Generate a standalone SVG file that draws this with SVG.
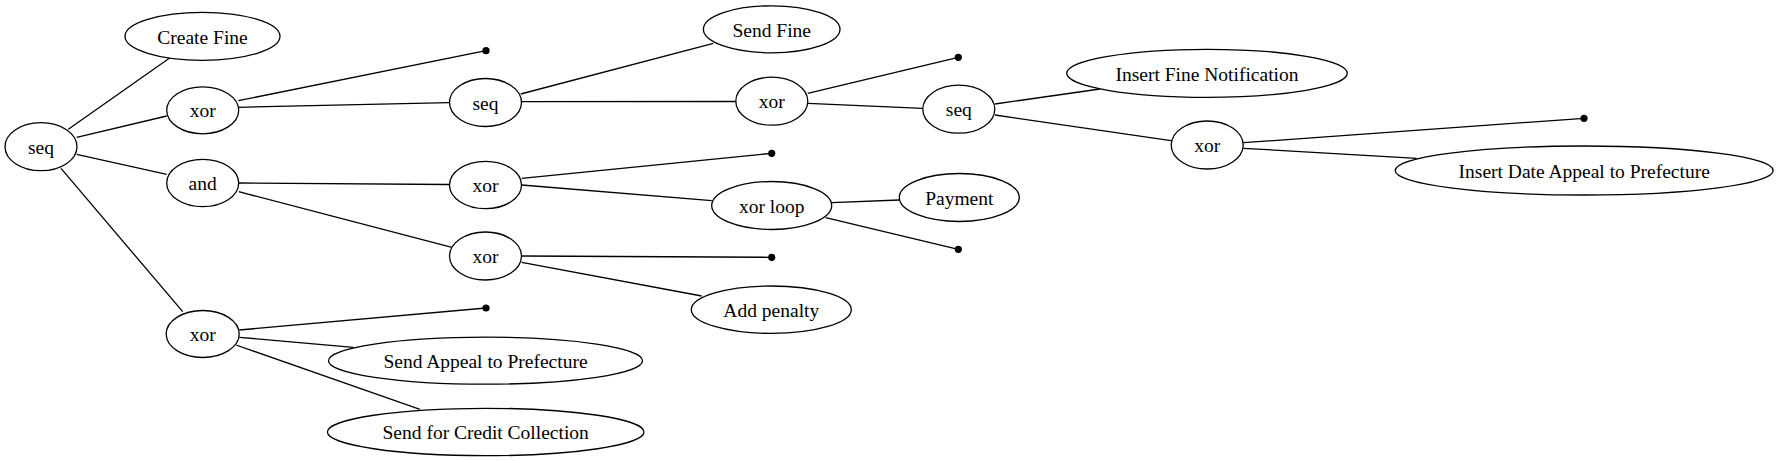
<svg xmlns="http://www.w3.org/2000/svg" width="1778" height="461" viewBox="0 0 1778 461">
<style>
.n ellipse{fill:#fff;stroke:#000;stroke-width:1.3}
.n text{font-family:'Liberation Serif','Times New Roman',serif;font-size:19.5px;text-anchor:middle;fill:#000}
.e line{stroke:#000;stroke-width:1.3;fill:none}
.d{fill:#000}
</style>
<rect width="1778" height="461" fill="#fff"/>
<g id="connectors" class="e">
<line x1="68.3" y1="129.3" x2="169.3" y2="58.3"/>
<line x1="76.7" y1="137.3" x2="166.7" y2="116"/>
<line x1="76.7" y1="154.3" x2="166.7" y2="174.3"/>
<line x1="61" y1="168.3" x2="182.7" y2="311.7"/>
<line x1="238.3" y1="100.7" x2="486" y2="50.7"/>
<line x1="238.3" y1="107.3" x2="449.3" y2="102.7"/>
<line x1="238.7" y1="183" x2="449.5" y2="184.5"/>
<line x1="238.7" y1="191.7" x2="451.9" y2="247.3"/>
<line x1="239.3" y1="330" x2="486" y2="308"/>
<line x1="239.3" y1="337.3" x2="353.3" y2="347.3"/>
<line x1="236" y1="345" x2="420" y2="409.3"/>
<line x1="520.7" y1="94" x2="713.3" y2="43.3"/>
<line x1="521.7" y1="101.7" x2="736" y2="101.5"/>
<line x1="521.7" y1="178.3" x2="771.7" y2="153.3"/>
<line x1="521.7" y1="185" x2="711.7" y2="200.7"/>
<line x1="521.7" y1="256" x2="771.7" y2="257.3"/>
<line x1="521.7" y1="262.3" x2="701.7" y2="296"/>
<line x1="807.7" y1="93.3" x2="958.3" y2="57.3"/>
<line x1="808" y1="103.3" x2="922.7" y2="108.3"/>
<line x1="831.7" y1="202.7" x2="899.3" y2="200"/>
<line x1="825.7" y1="217.7" x2="958.3" y2="249.3"/>
<line x1="995" y1="104" x2="1100" y2="89"/>
<line x1="995" y1="115" x2="1171" y2="140.7"/>
<line x1="1243.3" y1="142.7" x2="1584" y2="118.3"/>
<line x1="1243.3" y1="148.3" x2="1416.7" y2="158.3"/>
</g>
<g id="dots">
<circle class="d" cx="486" cy="50.7" r="3.6"/>
<circle class="d" cx="486" cy="308" r="3.6"/>
<circle class="d" cx="771.7" cy="153.3" r="3.6"/>
<circle class="d" cx="771.7" cy="257.3" r="3.6"/>
<circle class="d" cx="958.3" cy="57.3" r="3.6"/>
<circle class="d" cx="958.3" cy="249.3" r="3.6"/>
<circle class="d" cx="1584" cy="118.3" r="3.6"/>
</g>
<g id="root_seq" class="n"><ellipse cx="41" cy="146.7" rx="36" ry="24"/><text x="41" y="153.7">seq</text></g>
<g id="create_fine" class="n"><ellipse cx="202.5" cy="36.3" rx="77.5" ry="24"/><text x="202.5" y="43.5">Create Fine</text></g>
<g id="xor1" class="n"><ellipse cx="202.7" cy="110.3" rx="36" ry="23.5"/><text x="202.7" y="117.3">xor</text></g>
<g id="and" class="n"><ellipse cx="202.7" cy="183" rx="36" ry="23.7"/><text x="202.7" y="190">and</text></g>
<g id="xor_bottom" class="n"><ellipse cx="202.7" cy="334" rx="36.5" ry="23.5"/><text x="202.7" y="341">xor</text></g>
<g id="seq2" class="n"><ellipse cx="485.5" cy="102.5" rx="36" ry="24"/><text x="485.5" y="109.5">seq</text></g>
<g id="xor_a" class="n"><ellipse cx="485.5" cy="185" rx="36" ry="23.7"/><text x="485.5" y="192">xor</text></g>
<g id="xor_b" class="n"><ellipse cx="485.5" cy="256" rx="36" ry="24"/><text x="485.5" y="263">xor</text></g>
<g id="send_appeal" class="n"><ellipse cx="485.5" cy="360.7" rx="157" ry="23.5"/><text x="485.5" y="367.9">Send Appeal to Prefecture</text></g>
<g id="send_credit" class="n"><ellipse cx="485.7" cy="432" rx="158.3" ry="23.7"/><text x="485.7" y="439.2">Send for Credit Collection</text></g>
<g id="send_fine" class="n"><ellipse cx="771.7" cy="29.3" rx="68.3" ry="23.5"/><text x="771.7" y="36.5">Send Fine</text></g>
<g id="xor2" class="n"><ellipse cx="771.8" cy="101.2" rx="36" ry="24"/><text x="771.8" y="108.2">xor</text></g>
<g id="xor_loop" class="n"><ellipse cx="771.7" cy="205.5" rx="60" ry="24"/><text x="771.7" y="212.5">xor loop</text></g>
<g id="add_penalty" class="n"><ellipse cx="771.3" cy="309.7" rx="80" ry="23.7"/><text x="771.3" y="316.9">Add penalty</text></g>
<g id="seq3" class="n"><ellipse cx="958.8" cy="109.2" rx="36" ry="24"/><text x="958.8" y="116.2">seq</text></g>
<g id="payment" class="n"><ellipse cx="959.3" cy="197.5" rx="60" ry="24"/><text x="959.3" y="204.7">Payment</text></g>
<g id="insert_fine_notification" class="n"><ellipse cx="1207" cy="73.3" rx="140.3" ry="24"/><text x="1207" y="80.5">Insert Fine Notification</text></g>
<g id="xor4" class="n"><ellipse cx="1207.2" cy="145" rx="36" ry="24"/><text x="1207.2" y="152">xor</text></g>
<g id="insert_date_appeal" class="n"><ellipse cx="1584.2" cy="170.5" rx="189" ry="24.5"/><text x="1584.2" y="177.7">Insert Date Appeal to Prefecture</text></g>
</svg>
